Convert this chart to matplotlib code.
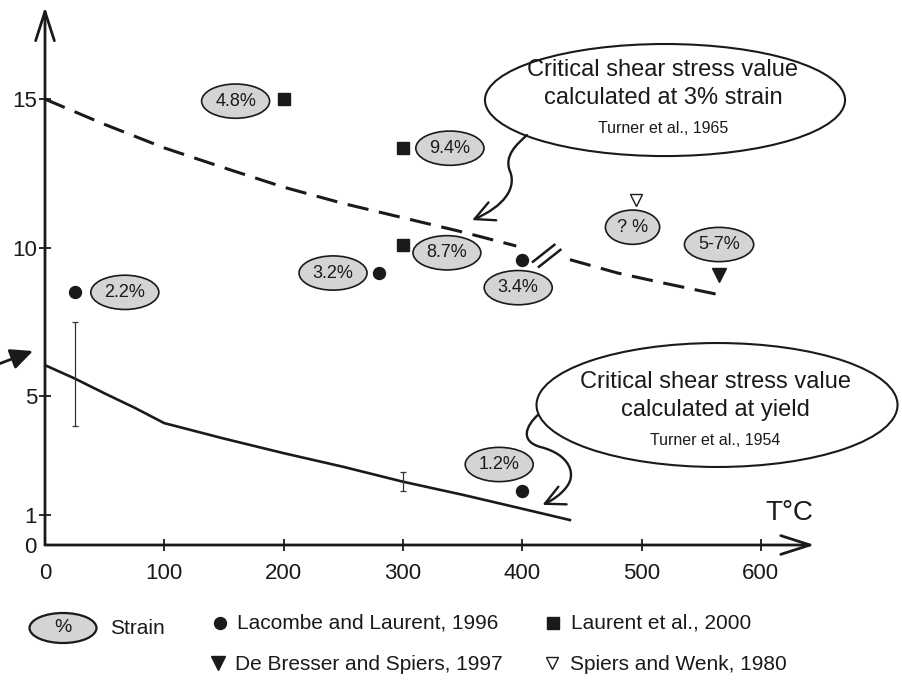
import matplotlib
matplotlib.use("Agg")
import matplotlib.pyplot as plt
from matplotlib.patches import Ellipse, FancyArrowPatch
from matplotlib.path import Path

plt.rcParams['font.family'] = ['Liberation Sans', 'DejaVu Sans']
INK = '#1a1a1a'
GREY = '#d4d4d4'

# critical shear stress at 3% strain (Turner et al., 1965), dashed, broken at ~400 C
strain3_T = [0, 50, 100, 150, 200, 250, 300, 350, 395]
strain3_tau = [15.0, 14.15, 13.36, 12.69, 12.04, 11.49, 11.01, 10.53, 10.06]
strain3_T_hi = [440, 480, 520, 565]
strain3_tau_hi = [9.6, 9.15, 8.8, 8.42]

# critical shear stress at yield (Turner et al., 1954)
yield_T = [0, 25, 50, 75, 100, 150, 200, 250, 300, 350, 400, 440]
yield_tau = [6.05, 5.6, 5.1, 4.62, 4.1, 3.58, 3.09, 2.63, 2.13, 1.69, 1.22, 0.84]

# error bars on the yield curve
err_T = [25, 300]
err_lo = [4.0, 1.83]
err_hi = [7.5, 2.47]

# experimental points
lacombe_T = [25, 280, 400, 400]
lacombe_tau = [8.5, 9.15, 9.6, 1.8]
lacombe_strain = ['2.2%', '3.2%', '3.4%', '1.2%']

laurent_T = [200, 300, 300]
laurent_tau = [15.0, 13.35, 10.1]
laurent_strain = ['4.8%', '9.4%', '8.7%']

bresser_T = [565]
bresser_tau = [9.1]
bresser_strain = ['5-7%']

spiers_T = [495]
spiers_tau = [11.6]
spiers_strain = ['? %']

x_ticks = [0, 100, 200, 300, 400, 500, 600]
y_ticks = [0, 1, 5, 10, 15]

# label offsets (pixels: right, down) of each strain bubble from its marker
lacombe_off = [(50, 0), (-46, 0), (-4, 28), (-23, -27)]
laurent_off = [(-48, 2), (47, 0), (44, 8)]
bresser_off = [(0, -30)]
spiers_off = [(-3, 27)]

W, H = 903, 681
fig = plt.figure(figsize=(W / 100, H / 100), dpi=100)
ax = fig.add_axes([45 / W, 136 / H, 769.5 / W, 538 / H])
ax.set_xlim(0, 645)
ax.set_ylim(0, 18.1)
for s in ax.spines.values():
    s.set_visible(False)

# axes as arrows
arrow_kw = dict(arrowstyle='->,head_length=1.4,head_width=0.45', lw=2.0,
                color=INK, shrinkA=0, shrinkB=0, mutation_scale=15)
ax.annotate('', xy=(1, 0), xytext=(0, 0), xycoords='axes fraction',
            arrowprops=arrow_kw, annotation_clip=False)
ax.annotate('', xy=(0, 1), xytext=(0, 0), xycoords='axes fraction',
            arrowprops=arrow_kw, annotation_clip=False)

ax.set_xticks(x_ticks)
ax.set_yticks(y_ticks)
ax.tick_params(direction='inout', length=8.6, width=1.3, labelsize=16,
               colors=INK)
ax.tick_params(axis='x', pad=8.5)
ax.tick_params(axis='y', pad=1.5)
ax.xaxis.get_major_ticks()[0].tick1line.set_visible(False)
ax.yaxis.get_major_ticks()[0].tick1line.set_visible(False)

ax.text(624, 1.08, 'T°C', fontsize=20, ha='center', va='center', color=INK)

# curves
ax.plot(strain3_T, strain3_tau, color=INK, lw=2.2, dashes=(7, 3.5))
ax.plot(strain3_T_hi, strain3_tau_hi, color=INK, lw=2.2, dashes=(7, 3.5))
ax.plot([409, 427], [9.53, 10.1], color=INK, lw=1.8)
ax.plot([414, 432], [9.36, 9.93], color=INK, lw=1.8)
ax.plot(yield_T, yield_tau, color=INK, lw=1.9)

mid = [(a + b) / 2 for a, b in zip(err_lo, err_hi)]
half = [(b - a) / 2 for a, b in zip(err_lo, err_hi)]
ax.errorbar(err_T, mid, yerr=half, fmt='none', ecolor='#333333', elinewidth=0.9,
            capsize=2.5, capthick=0.9)

# markers
ax.plot(lacombe_T, lacombe_tau, 'o', ms=8.6, color=INK, clip_on=False)
ax.plot(laurent_T, laurent_tau, 's', ms=8.6, color=INK, clip_on=False)
ax.plot(bresser_T, bresser_tau, 'v', ms=9.4, color=INK, clip_on=False)
ax.plot(spiers_T, spiers_tau, 'v', ms=9.0, mfc='white', mec=INK, mew=1.0,
        clip_on=False)

bubble = dict(boxstyle='ellipse,pad=0.2', fc=GREY, ec=INK, lw=1.2)
for xs, ys, labels, offs in [(lacombe_T, lacombe_tau, lacombe_strain, lacombe_off),
                             (laurent_T, laurent_tau, laurent_strain, laurent_off),
                             (bresser_T, bresser_tau, bresser_strain, bresser_off),
                             (spiers_T, spiers_tau, spiers_strain, spiers_off)]:
    for x, y, lab, (dx, dy) in zip(xs, ys, labels, offs):
        ax.annotate(lab, xy=(x, y), xytext=(dx, -dy), textcoords='offset pixels',
                    ha='center', va='center', fontsize=13, color=INK,
                    bbox=bubble, annotation_clip=False)

# callouts
ax.add_patch(Ellipse((519.7, 14.97), 301.8, 3.77, fc='white', ec=INK, lw=1.5,
                     clip_on=False))
ax.text(518, 15.98, 'Critical shear stress value', fontsize=17, ha='center',
        va='center', color=INK)
ax.text(518, 15.04, 'calculated at 3% strain', fontsize=17, ha='center',
        va='center', color=INK)
ax.text(518, 14.0, 'Turner et al., 1965', fontsize=11.5, ha='center',
        va='center', color=INK)

ax.add_patch(Ellipse((563.3, 4.71), 302.6, 4.17, fc='white', ec=INK, lw=1.5,
                     clip_on=False))
ax.text(561.6, 5.48, 'Critical shear stress value', fontsize=17, ha='center',
        va='center', color=INK, clip_on=False)
ax.text(561.6, 4.54, 'calculated at yield', fontsize=17, ha='center',
        va='center', color=INK, clip_on=False)
ax.text(561.6, 3.53, 'Turner et al., 1954', fontsize=11.5, ha='center',
        va='center', color=INK, clip_on=False)

C4 = Path.CURVE4
curly_kw = dict(arrowstyle='->,head_length=0.7,head_width=0.35',
                mutation_scale=20, lw=1.7, color=INK, clip_on=False)
upper = Path([(404, 13.79), (396, 13.5), (384, 13.1), (390, 12.55),
              (395, 12.0), (385, 11.4), (358, 10.93)],
             [Path.MOVETO, C4, C4, C4, C4, C4, C4])
ax.add_patch(FancyArrowPatch(path=upper, **curly_kw))
lower = Path([(413, 4.37), (403, 4.0), (398, 3.5), (415, 3.30),
              (440, 3.05), (445, 2.4), (438, 2.0),
              (433, 1.7), (425, 1.5), (417, 1.35)],
             [Path.MOVETO, C4, C4, C4, C4, C4, C4, C4, C4, C4])
ax.add_patch(FancyArrowPatch(path=lower, **curly_kw))

# overlay in pixel units for the legend and the stray arrow on the left
ov = fig.add_axes([0, 0, 1, 1])
ov.set_xlim(0, W)
ov.set_ylim(H, 0)
ov.axis('off')
ov.annotate('', xy=(33, 351), xytext=(-4, 365),
            arrowprops=dict(arrowstyle='-|>,head_length=0.75,head_width=0.35',
                            mutation_scale=18, lw=2.0, color=INK,
                            shrinkA=0, shrinkB=0))

ov.add_patch(Ellipse((63, 628), 67, 30, fc=GREY, ec=INK, lw=1.6))
ov.text(63, 628, '%', fontsize=14, ha='center', va='center', color=INK)
ov.text(110, 628, 'Strain', fontsize=15, ha='left', va='center', color=INK)

ov.plot([220], [623], 'o', ms=8.6, color=INK)
ov.text(237, 623, 'Lacombe and Laurent, 1996', fontsize=15, ha='left',
        va='center', color=INK)
ov.plot([553], [623], 's', ms=8.6, color=INK)
ov.text(571, 623, 'Laurent et al., 2000', fontsize=15, ha='left',
        va='center', color=INK)
ov.plot([218], [663], 'v', ms=9.4, color=INK)
ov.text(235, 665, 'De Bresser and Spiers, 1997', fontsize=15, ha='left',
        va='center', color=INK)
ov.plot([552], [663], 'v', ms=8.6, mfc='white', mec=INK, mew=1.0)
ov.text(570, 665, 'Spiers and Wenk, 1980', fontsize=15, ha='left',
        va='center', color=INK)

fig.savefig('out.png', dpi=100)
